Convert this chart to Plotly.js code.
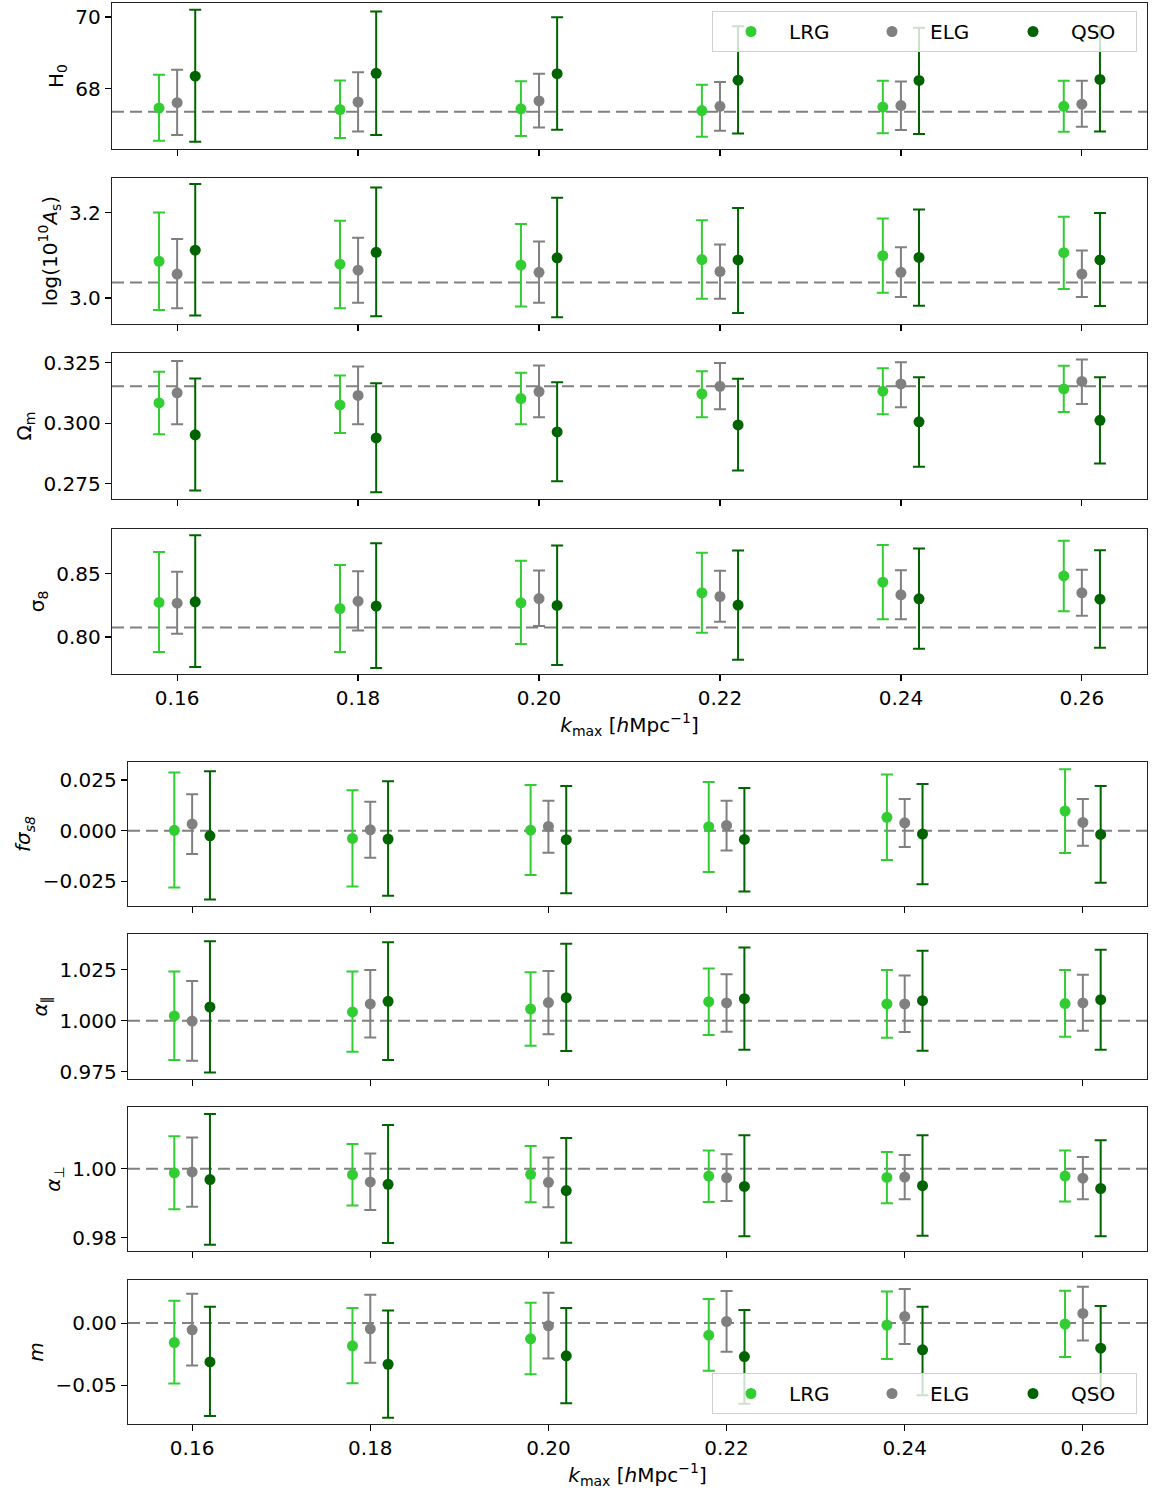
<!DOCTYPE html>
<html>
<head>
<meta charset="utf-8">
<script src="https://cdn.plot.ly/plotly-3.0.1.min.js"></script>
<style>html,body{margin:0;padding:0;background:#fff}#chart{width:1158px;height:1492px}</style>
</head>
<body>
<div id="chart"></div>
<script>
// ---------------- DATA ----------------
const kmax = [0.16, 0.18, 0.20, 0.22, 0.24, 0.26];
const tracers = ["LRG", "ELG", "QSO"];
const xTicks = [0.16, 0.18, 0.20, 0.22, 0.24, 0.26];

// H0
const H0_LRG = [67.46, 67.42, 67.44, 67.39, 67.49, 67.51];
const H0_LRG_hi = [68.39, 68.23, 68.21, 68.11, 68.22, 68.22];
const H0_LRG_lo = [66.55, 66.63, 66.68, 66.66, 66.76, 66.80];
const H0_ELG = [67.61, 67.63, 67.66, 67.51, 67.53, 67.57];
const H0_ELG_hi = [68.53, 68.46, 68.42, 68.19, 68.20, 68.22];
const H0_ELG_lo = [66.71, 66.81, 66.92, 66.83, 66.85, 66.94];
const H0_QSO = [68.35, 68.43, 68.42, 68.24, 68.23, 68.26];
const H0_QSO_hi = [70.20, 70.15, 69.99, 69.74, 69.70, 69.72];
const H0_QSO_lo = [66.52, 66.71, 66.86, 66.75, 66.74, 66.81];

// log(10^10 As)
const As_LRG = [3.086, 3.079, 3.077, 3.090, 3.099, 3.106];
const As_LRG_hi = [3.200, 3.181, 3.173, 3.182, 3.186, 3.190];
const As_LRG_lo = [2.972, 2.976, 2.980, 2.998, 3.012, 3.021];
const As_ELG = [3.056, 3.065, 3.060, 3.062, 3.060, 3.056];
const As_ELG_hi = [3.138, 3.141, 3.132, 3.125, 3.119, 3.111];
const As_ELG_lo = [2.976, 2.989, 2.989, 2.998, 3.002, 3.002];
const As_QSO = [3.112, 3.107, 3.094, 3.089, 3.095, 3.089];
const As_QSO_hi = [3.267, 3.259, 3.235, 3.211, 3.207, 3.199];
const As_QSO_lo = [2.959, 2.957, 2.955, 2.965, 2.982, 2.981];

// Omega_m
const Om_LRG = [0.3084, 0.3076, 0.3102, 0.3122, 0.3133, 0.3142];
const Om_LRG_hi = [0.3213, 0.3198, 0.3209, 0.3215, 0.3228, 0.3238];
const Om_LRG_lo = [0.2954, 0.2959, 0.2996, 0.3025, 0.3037, 0.3046];
const Om_ELG = [0.3126, 0.3115, 0.3131, 0.3153, 0.3163, 0.3173];
const Om_ELG_hi = [0.3258, 0.3235, 0.3239, 0.3250, 0.3253, 0.3264];
const Om_ELG_lo = [0.2996, 0.2996, 0.3025, 0.3058, 0.3066, 0.3080];
const Om_QSO = [0.2952, 0.2939, 0.2964, 0.2993, 0.3006, 0.3012];
const Om_QSO_hi = [0.3185, 0.3166, 0.3170, 0.3184, 0.3191, 0.3191];
const Om_QSO_lo = [0.2721, 0.2714, 0.2760, 0.2804, 0.2820, 0.2833];

// sigma_8
const s8_LRG = [0.8274, 0.8226, 0.8271, 0.8350, 0.8434, 0.8484];
const s8_LRG_hi = [0.8674, 0.8571, 0.8603, 0.8668, 0.8729, 0.8763];
const s8_LRG_lo = [0.7882, 0.7882, 0.7945, 0.8034, 0.8142, 0.8205];
const s8_ELG = [0.8268, 0.8284, 0.8305, 0.8321, 0.8334, 0.8350];
const s8_ELG_hi = [0.8516, 0.8521, 0.8526, 0.8524, 0.8529, 0.8532];
const s8_ELG_lo = [0.8026, 0.8053, 0.8087, 0.8121, 0.8142, 0.8168];
const s8_QSO = [0.8279, 0.8245, 0.8250, 0.8253, 0.8303, 0.8300];
const s8_QSO_hi = [0.8805, 0.8742, 0.8724, 0.8684, 0.8700, 0.8687];
const s8_QSO_lo = [0.7763, 0.7755, 0.7779, 0.7821, 0.7908, 0.7916];

// f sigma_s8
const fs8_LRG = [0.0002, -0.0038, 0.0003, 0.0020, 0.0066, 0.0097];
const fs8_LRG_hi = [0.0287, 0.0200, 0.0225, 0.0241, 0.0277, 0.0303];
const fs8_LRG_lo = [-0.0280, -0.0275, -0.0218, -0.0203, -0.0144, -0.0110];
const fs8_ELG = [0.0033, 0.0005, 0.0021, 0.0026, 0.0039, 0.0041];
const fs8_ELG_hi = [0.0180, 0.0143, 0.0148, 0.0148, 0.0156, 0.0156];
const fs8_ELG_lo = [-0.0115, -0.0133, -0.0108, -0.0097, -0.0080, -0.0074];
const fs8_QSO = [-0.0025, -0.0041, -0.0044, -0.0043, -0.0016, -0.0018];
const fs8_QSO_hi = [0.0293, 0.0244, 0.0221, 0.0211, 0.0231, 0.0221];
const fs8_QSO_lo = [-0.0339, -0.0321, -0.0308, -0.0300, -0.0264, -0.0256];

// alpha_parallel
const apar_LRG = [1.0023, 1.0043, 1.0057, 1.0093, 1.0082, 1.0084];
const apar_LRG_hi = [1.0241, 1.0241, 1.0238, 1.0256, 1.0249, 1.0249];
const apar_LRG_lo = [0.9807, 0.9848, 0.9877, 0.9930, 0.9916, 0.9921];
const apar_ELG = [0.9998, 1.0082, 1.0089, 1.0087, 1.0082, 1.0087];
const apar_ELG_hi = [1.0195, 1.0249, 1.0243, 1.0228, 1.0221, 1.0225];
const apar_ELG_lo = [0.9803, 0.9918, 0.9934, 0.9946, 0.9944, 0.9951];
const apar_QSO = [1.0067, 1.0095, 1.0113, 1.0108, 1.0098, 1.0103];
const apar_QSO_hi = [1.0389, 1.0384, 1.0377, 1.0359, 1.0343, 1.0348];
const apar_QSO_lo = [0.9746, 0.9807, 0.9851, 0.9857, 0.9852, 0.9857];

// alpha_perp
const aper_LRG = [0.9988, 0.9983, 0.9984, 0.9979, 0.9975, 0.9979];
const aper_LRG_hi = [1.0094, 1.0072, 1.0066, 1.0053, 1.0049, 1.0053];
const aper_LRG_lo = [0.9883, 0.9894, 0.9903, 0.9904, 0.9900, 0.9905];
const aper_ELG = [0.9991, 0.9962, 0.9961, 0.9974, 0.9976, 0.9973];
const aper_ELG_hi = [1.0091, 1.0044, 1.0033, 1.0042, 1.0040, 1.0034];
const aper_ELG_lo = [0.9890, 0.9881, 0.9889, 0.9907, 0.9912, 0.9912];
const aper_QSO = [0.9969, 0.9955, 0.9937, 0.9949, 0.9951, 0.9943];
const aper_QSO_hi = [1.0159, 1.0127, 1.0089, 1.0097, 1.0097, 1.0083];
const aper_QSO_lo = [0.9780, 0.9785, 0.9786, 0.9805, 0.9806, 0.9805];

// m
const m_LRG = [-0.0156, -0.0183, -0.0126, -0.0097, -0.0016, -0.0008];
const m_LRG_hi = [0.0180, 0.0121, 0.0164, 0.0194, 0.0255, 0.0261];
const m_LRG_lo = [-0.0487, -0.0484, -0.0411, -0.0384, -0.0288, -0.0272];
const m_ELG = [-0.0054, -0.0046, -0.0022, 0.0013, 0.0054, 0.0078];
const m_ELG_hi = [0.0237, 0.0228, 0.0245, 0.0258, 0.0274, 0.0293];
const m_ELG_lo = [-0.0341, -0.0320, -0.0285, -0.0231, -0.0169, -0.0140];
const m_QSO = [-0.0312, -0.0331, -0.0263, -0.0269, -0.0215, -0.0202];
const m_QSO_hi = [0.0132, 0.0102, 0.0121, 0.0105, 0.0132, 0.0137];
const m_QSO_lo = [-0.0747, -0.0761, -0.0645, -0.0650, -0.0580, -0.0560];

// fiducial values (dashed lines)
const fiducial = [67.36, 3.036, 0.3153, 0.8076, 0.0, 1.0, 1.0, 0.0];

const yLabels = [
  "H<sub>0</sub>",
  "log(10<sup>10</sup><i>A</i><sub>s</sub>)",
  "Ω<sub>m</sub>",
  "σ<sub>8</sub>",
  "<i>fσ</i><sub><i>s8</i></sub>",
  "<i>α</i><sub>∥</sub>",
  "<i>α</i><sub>⊥</sub>",
  "<i>m</i>"
];
const xLabel = "<i>k</i><sub>max</sub> [<i>h</i>Mpc<sup>−1</sup>]";

// ---------------- STYLE / LAYOUT ----------------
const params = [
  {v:[H0_LRG,H0_ELG,H0_QSO], hi:[H0_LRG_hi,H0_ELG_hi,H0_QSO_hi], lo:[H0_LRG_lo,H0_ELG_lo,H0_QSO_lo], range:[66.32,70.39], dtick:2, tick0:68, fmt:"d"},
  {v:[As_LRG,As_ELG,As_QSO], hi:[As_LRG_hi,As_ELG_hi,As_QSO_hi], lo:[As_LRG_lo,As_ELG_lo,As_QSO_lo], range:[2.939,3.281], dtick:0.2, tick0:3.0, fmt:".1f"},
  {v:[Om_LRG,Om_ELG,Om_QSO], hi:[Om_LRG_hi,Om_ELG_hi,Om_QSO_hi], lo:[Om_LRG_lo,Om_ELG_lo,Om_QSO_lo], range:[0.2686,0.3291], dtick:0.025, tick0:0.3, fmt:".3f"},
  {v:[s8_LRG,s8_ELG,s8_QSO], hi:[s8_LRG_hi,s8_ELG_hi,s8_QSO_hi], lo:[s8_LRG_lo,s8_ELG_lo,s8_QSO_lo], range:[0.7708,0.8855], dtick:0.05, tick0:0.8, fmt:".2f"},
  {v:[fs8_LRG,fs8_ELG,fs8_QSO], hi:[fs8_LRG_hi,fs8_ELG_hi,fs8_QSO_hi], lo:[fs8_LRG_lo,fs8_ELG_lo,fs8_QSO_lo], range:[-0.0371,0.0339], dtick:0.025, tick0:0, fmt:".3f"},
  {v:[apar_LRG,apar_ELG,apar_QSO], hi:[apar_LRG_hi,apar_ELG_hi,apar_QSO_hi], lo:[apar_LRG_lo,apar_ELG_lo,apar_QSO_lo], range:[0.9714,1.0425], dtick:0.025, tick0:1.0, fmt:".3f"},
  {v:[aper_LRG,aper_ELG,aper_QSO], hi:[aper_LRG_hi,aper_ELG_hi,aper_QSO_hi], lo:[aper_LRG_lo,aper_ELG_lo,aper_QSO_lo], range:[0.9762,1.0179], dtick:0.02, tick0:1.0, fmt:".2f"},
  {v:[m_LRG,m_ELG,m_QSO], hi:[m_LRG_hi,m_ELG_hi,m_QSO_hi], lo:[m_LRG_lo,m_ELG_lo,m_QSO_lo], range:[-0.0812,0.0347], dtick:0.05, tick0:0, fmt:".2f"}
];

const colors = ["#32CD32", "#808080", "#006400"];
const xShift = [-0.002, 0, 0.002];
const W = 1158, H = 1492;
const panelPx = [[3,149],[178,324],[353,499],[529,674],[762,906],[934,1079],[1107,1251],[1280,1424]];
const xPxTop = [112, 1147], xPxBot = [128, 1147];
const xRange = [0.1528, 0.2672];
const FONT = "DejaVu Sans, Liberation Sans, sans-serif";

const legendStyle = (yTopPx) => ({
  orientation: "h", x: 1137/W, xanchor: "right", y: 1 - yTopPx/H, yanchor: "top",
  bgcolor: "rgba(255,255,255,0.8)", bordercolor: "#d0d0d0", borderwidth: 1,
  font: {family: FONT, size: 20, color: "#000"},
  itemwidth: 66, entrywidth: 60, entrywidthmode: "pixels",
  traceorder: "normal"
});

const traces = [];
const layout = {
  width: W, height: H,
  margin: {l:0, r:0, t:0, b:0},
  paper_bgcolor: "#ffffff", plot_bgcolor: "#ffffff",
  font: {family: FONT, size: 20, color: "#000"},
  showlegend: true,
  shapes: [],
  legend: legendStyle(11),
  legend2: legendStyle(1373)
};

params.forEach((p, i) => {
  const n = i + 1;
  const xa = n === 1 ? "x" : "x" + n;
  const ya = n === 1 ? "y" : "y" + n;
  const top = i < 4;
  const xpx = top ? xPxTop : xPxBot;
  const showLbl = (i === 3 || i === 7);

  layout["xaxis" + (n === 1 ? "" : n)] = {
    domain: [xpx[0]/W, xpx[1]/W],
    anchor: ya,
    range: xRange,
    tickvals: xTicks,
    ticktext: xTicks.map(t => t.toFixed(2)),
    showticklabels: showLbl,
    ticks: "outside", ticklen: 6, tickwidth: 1.2, tickcolor: "#000",
    showline: true, mirror: true, linecolor: "#222", linewidth: 1.2,
    showgrid: false, zeroline: false,
    tickfont: {family: FONT, size: 20, color: "#000"},
    title: showLbl ? {text: xLabel, font: {family: FONT, size: 20, color: "#000"}, standoff: 4} : {text: ""}
  };
  if (n !== 1 && n !== 5) layout["xaxis" + n].matches = top ? "x" : "x5";

  layout["yaxis" + (n === 1 ? "" : n)] = {
    domain: [1 - panelPx[i][1]/H, 1 - panelPx[i][0]/H],
    anchor: xa,
    range: p.range,
    tick0: p.tick0, dtick: p.dtick, tickformat: p.fmt,
    ticks: "outside", ticklen: 6, tickwidth: 1.2, tickcolor: "#000",
    showline: true, mirror: true, linecolor: "#222", linewidth: 1.2,
    showgrid: false, zeroline: false,
    tickfont: {family: FONT, size: 20, color: "#000"},
    title: {text: yLabels[i], font: {family: FONT, size: 20, color: "#000"}, standoff: 6}
  };

  layout.shapes.push({
    type: "line", xref: xa + " domain", yref: ya, x0: 0, x1: 1,
    y0: fiducial[i], y1: fiducial[i],
    line: {color: "#808080", width: 2, dash: "12px,6px"}, layer: "below"
  });

  tracers.forEach((t, j) => {
    const v = p.v[j];
    traces.push({
      type: "scatter", mode: "markers",
      name: t,
      x: kmax.map(k => k + xShift[j]),
      y: v,
      xaxis: xa, yaxis: ya,
      marker: {color: colors[j], size: 11},
      error_y: {
        type: "data", symmetric: false,
        array: p.hi[j].map((h, q) => h - v[q]),
        arrayminus: p.lo[j].map((l, q) => v[q] - l),
        color: colors[j], thickness: 2, width: 6
      },
      showlegend: (i === 0 || i === 7),
      legend: i === 7 ? "legend2" : "legend",
      hoverinfo: "skip"
    });
  });
});

Plotly.newPlot("chart", traces, layout, {staticPlot: true, displayModeBar: false});
</script>
</body>
</html>
